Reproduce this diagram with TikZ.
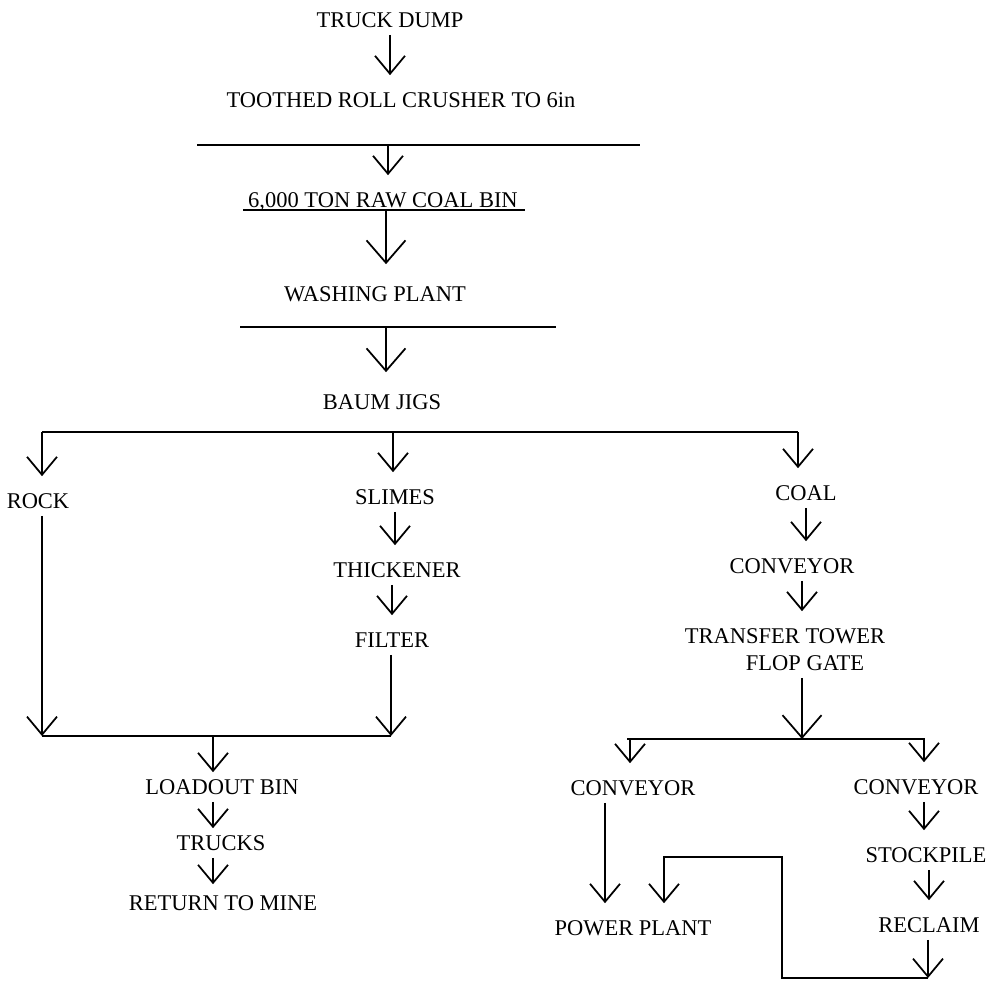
\documentclass[tikz,border=0pt]{standalone}
\usepackage{fontspec}
\setmainfont{Liberation Serif}
\usepackage{tikz}
\usetikzlibrary{arrows.meta,calc}
\tikzstyle{stage} = [inner xsep=2pt, inner ysep=0.14cm, text height=8.5pt, text depth=0pt, font=\fontsize{12.8}{14}\selectfont]
\tikzstyle{line} = [line width=1pt]
\tikzstyle{flow} = [line width=1pt, -{Straight Barb[length=0.36cm, width=0.6cm]}]
\tikzstyle{bigflow} = [line width=1pt, -{Straight Barb[length=0.45cm, width=0.78cm]}]
\tikzstyle{gap} = [shorten >=0.2cm]

\begin{document}
\begin{tikzpicture}[x=0.02cm, y=-0.02cm]
        \useasboundingbox (0,0) rectangle (999,980);
        % main line
        \node[stage] (dump) at (390,20) {TRUCK DUMP};
        \node[stage] (crusher) at (401,100) {TOOTHED ROLL CRUSHER TO 6in};
        \node[stage] (rawbin) at (383,200) {6,000 TON RAW COAL BIN};
        \node[stage] (washing) at (375,294) {WASHING PLANT};
        \node[stage] (jigs) at (382,402) {BAUM JIGS};
        \coordinate (bar1) at (388,145);
        \coordinate (bar2) at (386,210);
        \coordinate (bar3) at (386,327);
        \draw[line] (197,145) -- (640,145);
        \draw[line] (243,210) -- (525,210);
        \draw[line] (240,327) -- (556,327);
        \draw[flow, gap] (dump.south) -- (crusher.north -| dump.south);
        \draw[flow, gap] (bar1) -- (bar1 |- rawbin.north);
        \draw[bigflow, shorten >=0.3cm] (bar2) -- (bar2 |- washing.north);
        \draw[bigflow, shorten >=0.3cm] (bar3) -- (bar3 |- jigs.north);
        % three products
        \node[stage] (rock) at (38,501) {ROCK};
        \node[stage] (slimes) at (395,497) {SLIMES};
        \node[stage] (coal) at (806,493) {COAL};
        \coordinate (split1) at (42,432);
        \coordinate (split2) at (393,432);
        \coordinate (split3) at (798,432);
        \draw[line] (split1) -- (split3);
        \draw[flow, gap] (split1) -- (split1 |- rock.north);
        \draw[flow, gap] (split2) -- (split2 |- slimes.north);
        \draw[flow, gap] (split3) -- (split3 |- coal.north);
        % refuse side
        \node[stage] (thickener) at (397,570) {THICKENER};
        \node[stage] (filter) at (392,640) {FILTER};
        \node[stage] (loadout) at (222,787) {LOADOUT BIN};
        \node[stage] (trucks) at (221,843) {TRUCKS};
        \node[stage] (mine) at (223,903) {RETURN TO MINE};
        \coordinate (merge1) at (42,736);
        \coordinate (merge2) at (391,736);
        \coordinate (merge) at (213,736);
        \draw[flow, gap] (slimes.south) -- (slimes.south |- thickener.north);
        \draw[flow, gap] (thickener.south -| filter.north) -- (filter.north);
        \draw[flow] (rock.south -| split1) -- (merge1);
        \draw[flow] (filter.south -| merge2) -- (merge2);
        \draw[line] (merge1) -- (merge2);
        \draw[flow] (merge) -- (merge |- loadout.north);
        \draw[flow] (loadout.south -| merge) -- (trucks.north -| merge);
        \draw[flow] (trucks.south -| merge) -- ([yshift=0.08cm]mine.north -| merge);
        % coal side
        \node[stage] (conv) at (792,566) {CONVEYOR};
        \node[stage] (tower) at (785,636) {TRANSFER TOWER};
        \node[stage] (gate) at (805,663) {FLOP GATE};
        \node[stage] (convL) at (633,788) {CONVEYOR};
        \node[stage] (convR) at (916,787) {CONVEYOR};
        \node[stage] (stock) at (926,855) {STOCKPILE};
        \node[stage] (power) at (633,928) {POWER PLANT};
        \node[stage] (reclaim) at (929,925) {RECLAIM};
        \coordinate (fork) at (802,739);
        \coordinate (forkL) at (630,739);
        \coordinate (forkR) at (924,739);
        \coordinate (ppa) at (605,850);
        \coordinate (ppb) at (664,857);
        \coordinate (loop1) at (928,978);
        \coordinate (loop2) at (782,857);
        \draw[flow, gap] (coal.south) -- (coal.south |- conv.north);
        \draw[flow, gap] (conv.south -| fork) -- (tower.north -| fork);
        \draw[bigflow] (gate.south -| fork) -- (fork);
        \draw[line] (627,739) -- (925,739);
        \draw[flow, gap] (forkL) -- (forkL |- convL.north);
        \draw[flow, gap] (forkR) -- (forkR |- convR.north);
        \draw[flow, gap] (convL.south -| ppa) -- (power.north -| ppa);
        \draw[flow, gap] (convR.south -| forkR) -- (stock.north -| forkR);
        \draw[flow, gap] (stock.south -| reclaim) -- (reclaim.north);
        \draw[flow] (reclaim.south -| loop1) -- (loop1);
        \draw[flow, gap] (loop1) -| (loop2) -- (ppb) -- (power.north -| ppb);
\end{tikzpicture}
\end{document}
